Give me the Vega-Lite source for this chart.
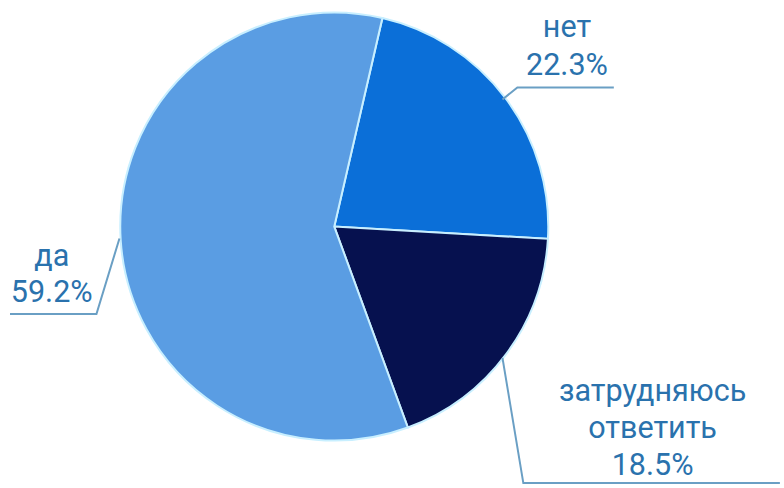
{
  "$schema": "https://vega.github.io/schema/vega-lite/v6.json",
  "width": 784,
  "height": 488,
  "padding": 0,
  "autosize": {"type": "fit", "contains": "padding"},
  "background": "white",
  "config": {"view": {"stroke": null}},
  "datasets": {
    "slices": [
      {"label": "нет", "value": 22.3, "order": 1},
      {"label": "затрудняюсь ответить", "value": 18.5, "order": 2},
      {"label": "да", "value": 59.2, "order": 3}
    ],
    "leaders": [
      {"grp": "нет", "i": 1, "x": 0.790, "y": 0.598},
      {"grp": "нет", "i": 2, "x": 0.860, "y": 0.654},
      {"grp": "нет", "i": 3, "x": 1.313, "y": 0.654},
      {"grp": "да", "i": 1, "x": -1.009, "y": -0.056},
      {"grp": "да", "i": 2, "x": -1.117, "y": -0.411},
      {"grp": "да", "i": 3, "x": -1.523, "y": -0.411},
      {"grp": "зо", "i": 1, "x": 0.790, "y": -0.617},
      {"grp": "зо", "i": 2, "x": 0.888, "y": -1.206},
      {"grp": "зо", "i": 3, "x": 2.093, "y": -1.206}
    ],
    "labels": [
      {"t": "нет", "x": 1.093, "y": 0.893},
      {"t": "22.3%", "x": 1.093, "y": 0.715},
      {"t": "да", "x": -1.327, "y": -0.187},
      {"t": "59.2%", "x": -1.327, "y": -0.355},
      {"t": "затрудняюсь", "x": 1.495, "y": -0.818},
      {"t": "ответить", "x": 1.495, "y": -0.995},
      {"t": "18.5%", "x": 1.495, "y": -1.168}
    ]
  },
  "layer": [
    {
      "data": {"name": "slices"},
      "mark": {"type": "arc", "outerRadius": 214, "stroke": "#c8efff", "strokeWidth": 2},
      "encoding": {
        "x": {"datum": 0, "type": "quantitative", "scale": {"domain": [-1.570, 2.0935], "nice": false, "zero": false}, "axis": null},
        "y": {"datum": 0, "type": "quantitative", "scale": {"domain": [-1.215, 1.0654], "nice": false, "zero": false}, "axis": null},
        "theta": {"field": "value", "type": "quantitative", "stack": true, "scale": {"range": [0.227, 6.510]}},
        "order": {"field": "order", "type": "quantitative"},
        "color": {
          "field": "label", "type": "nominal", "legend": null,
          "scale": {"domain": ["нет", "затрудняюсь ответить", "да"], "range": ["#0b6fd8", "#06114f", "#5a9de3"]}
        }
      }
    },
    {
      "data": {"name": "leaders"},
      "mark": {"type": "line", "color": "#6a9fc4", "strokeWidth": 2},
      "encoding": {
        "x": {"field": "x", "type": "quantitative"},
        "y": {"field": "y", "type": "quantitative"},
        "detail": {"field": "grp"},
        "order": {"field": "i", "type": "quantitative"}
      }
    },
    {
      "data": {"name": "labels"},
      "mark": {"type": "text", "font": "Roboto", "fontSize": 30.5, "color": "#2a72ad", "align": "center", "baseline": "alphabetic"},
      "encoding": {
        "x": {"field": "x", "type": "quantitative"},
        "y": {"field": "y", "type": "quantitative"},
        "text": {"field": "t"}
      }
    }
  ]
}
